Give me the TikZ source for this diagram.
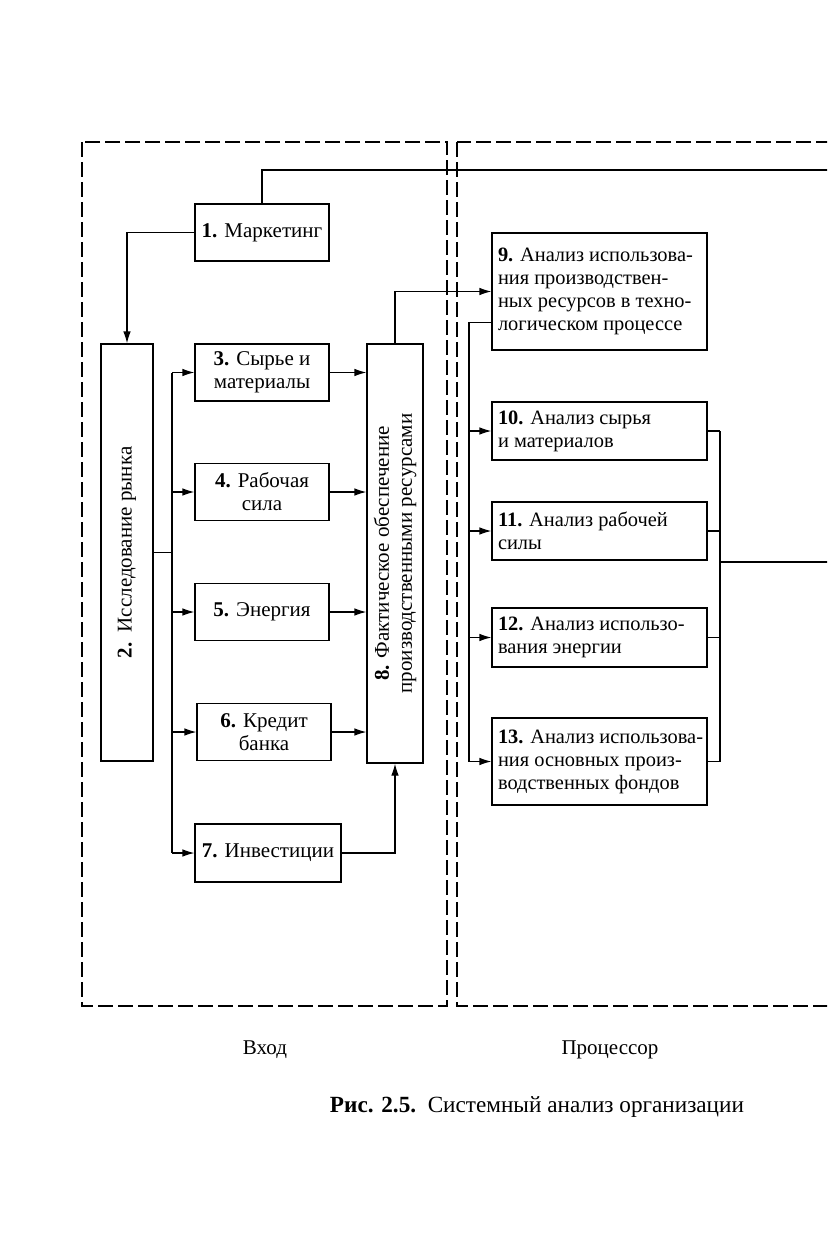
\documentclass[tikz,border=0pt]{standalone}
\usepackage{fontspec}
\setmainfont{Liberation Serif}
\usetikzlibrary{arrows.meta,calc}
\begin{document}
\begin{tikzpicture}[x=0.5pt,y=-0.5pt,
  every node/.style={font=\fontsize{10.5}{11.5}\selectfont},
  box/.style={draw,line width=0.6pt,inner sep=2pt,align=center},
  rbox/.style={draw,line width=0.6pt,inner xsep=3pt,inner ysep=2pt,text width=101.5pt,align=flush left,minimum width=107.5pt,font=\fontsize{10.2}{11.5}\selectfont},
  con/.style={line width=0.6pt},
  arr/.style={line width=0.6pt,-{Latex[length=6pt,width=3.8pt]}},
  frame/.style={line width=0.6pt,dash pattern=on 7.5pt off 2.5pt}]
\useasboundingbox (0,0) rectangle (827,1252);
\clip (0,0) rectangle (827,1252);
% frames
\draw[frame] (82,142) rectangle (447,1006);
\draw[frame] (457,142) rectangle (900,1006);
% left nodes
\node[box,minimum width=67pt,minimum height=28.5pt] (b1) at (262,232.5) {\textbf{1.} Маркетинг};
\node[box,minimum width=26pt,minimum height=208.5pt] (b2) at (127,552.5) {};
\node[rotate=90] (t2) at (b2.center) {\textbf{2.}\ \ Исследование рынка};
\node[box,minimum width=67pt,minimum height=28.5pt] (b3) at (262,372.5) {\textbf{3.} Сырье и\\материалы};
\node[box,minimum width=67pt,minimum height=28.5pt] (b4) at (262,492) {\textbf{4.} Рабочая\\сила};
\node[box,minimum width=67pt,minimum height=28.5pt] (b5) at (262,612) {\textbf{5.} Энергия};
\node[box,minimum width=67pt,minimum height=28.5pt] (b6) at (264,732) {\textbf{6.} Кредит\\банка};
\node[box,minimum width=73pt,minimum height=29pt] (b7) at (268,853) {\textbf{7.} Инвестиции};
\node[box,minimum width=28pt,minimum height=209.5pt] (b8) at (395,553.5) {};
\node[rotate=90,align=center] (t8) at (b8.center) {\textbf{8.} Фактическое обеспечение\\производственными ресурсами};
% right nodes
\node[rbox,minimum height=58.5pt] (b9) at (599.5,291.5) {\mbox{\textbf{9.} Анализ использова-}\\\mbox{ния производствен-}\\\mbox{ных ресурсов в техно-}\\\mbox{логическом процессе}};
\node[rbox,minimum height=29pt] (b10) at (599.5,431) {\mbox{\textbf{10.} Анализ сырья}\\\mbox{и материалов}};
\node[rbox,minimum height=29pt] (b11) at (599.5,531) {\mbox{\textbf{11.} Анализ рабочей}\\\mbox{силы}};
\node[rbox,minimum height=29.5pt] (b12) at (599.5,637.5) {\mbox{\textbf{12.} Анализ использо-}\\\mbox{вания энергии}};
\node[rbox,minimum height=43.5pt] (b13) at (599.5,761.5) {\mbox{\textbf{13.} Анализ использова-}\\\mbox{ния основных произ-}\\\mbox{водственных фондов}};
% coordinates
\coordinate (busL) at (172,0);
\coordinate (busR) at (469,0);
\coordinate (collR) at (720,0);
\coordinate (topR) at (850,170);
\coordinate (outR) at (850,562);
% connectors
\draw[con] (b1.north) |- (topR);
\draw[arr] (b1.west) -| (b2.north);
\draw[con] (b2.east) -- (b2.east -| busL);
\draw[con] (busL |- b3.west) -- (busL |- b7.west);
\foreach \n in {3,4,5,6,7} \draw[arr] (busL |- b\n.west) -- (b\n.west);
\foreach \n in {3,4,5,6} \draw[arr] (b\n.east) -- (b\n.east -| b8.west);
\draw[arr] (b7.east) -| (b8.south);
\draw[arr] (b8.north) |- (b9.west);
\draw[con] ([yshift=14pt]b9.south west) -| (busR |- b13.west);
\foreach \n in {10,11,12,13} \draw[arr] (busR |- b\n.west) -- (b\n.west);
\foreach \n in {10,11,12,13} \draw[con] (b\n.east) -- (b\n.east -| collR);
\draw[con] (collR |- b10.east) -- (collR |- b13.east);
\draw[con] (collR |- outR) -- (outR);
% labels
\node (lin) at (265,1050) {Вход};
\node (lproc) at (610,1050) {Процессор};
\node[font=\fontsize{11.6}{12.5}\selectfont] (cap) at (537,1107) {\textbf{Рис. 2.5.}\ \ Системный анализ организации};
\end{tikzpicture}
\end{document}
